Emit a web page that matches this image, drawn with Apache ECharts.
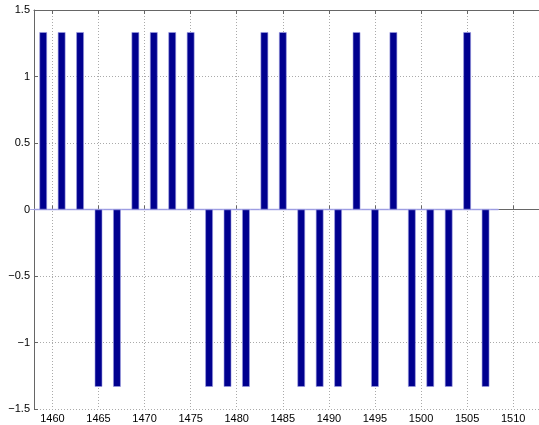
<!DOCTYPE html>
<html>
<head>
<meta charset="utf-8">
<script src="https://cdn.jsdelivr.net/npm/echarts@6/dist/echarts.min.js"></script>
<style>
  html, body { margin: 0; padding: 0; background: #fff; }
  #chart { width: 539px; height: 425px; }
</style>
</head>
<body>
<div id="chart"></div>
<script>
// Positions along the x axis (one bar per integer step)
const positions = [
  1458, 1459, 1460, 1461, 1462, 1463, 1464, 1465, 1466, 1467,
  1468, 1469, 1470, 1471, 1472, 1473, 1474, 1475, 1476, 1477,
  1478, 1479, 1480, 1481, 1482, 1483, 1484, 1485, 1486, 1487,
  1488, 1489, 1490, 1491, 1492, 1493, 1494, 1495, 1496, 1497,
  1498, 1499, 1500, 1501, 1502, 1503, 1504, 1505, 1506, 1507, 1508
];
const A = 1.3333;
// Bar heights: zero on even steps, ±A on odd steps
const values = [
  0,  A, 0,  A, 0,  A, 0, -A, 0, -A,
  0,  A, 0,  A, 0,  A, 0,  A, 0, -A,
  0, -A, 0, -A, 0,  A, 0,  A, 0, -A,
  0, -A, 0, -A, 0,  A, 0, -A, 0,  A,
  0, -A, 0, -A, 0, -A, 0,  A, 0, -A, 0
];
const xTicks = [1460, 1465, 1470, 1475, 1480, 1485, 1490, 1495, 1500, 1505, 1510];

const chart = echarts.init(document.getElementById('chart'));
const font = { fontFamily: 'Liberation Sans', fontSize: 11, color: '#000' };
const gridLine = { show: true, lineStyle: { color: '#aaa', type: [1, 2], width: 1 } };
const axisLine = { show: true, lineStyle: { color: '#666', width: 1 } };

chart.setOption({
  animation: false,
  grid: { left: 34, right: 0, top: 10, bottom: 16 },
  xAxis: [{
    type: 'value',
    min: 1458, max: 1512.8,
    interval: 5,
    axisLine: axisLine,
    axisTick: { show: true, inside: true, length: 4, lineStyle: { color: '#666' },
      customValues: xTicks },
    axisLabel: Object.assign({}, font, { margin: 4, customValues: xTicks,
      formatter: v => String(v) }),
    splitLine: gridLine
  }, {
    type: 'value',
    position: 'top',
    min: 1458, max: 1512.8,
    axisLine: axisLine,
    axisTick: { show: true, inside: true, length: 4, lineStyle: { color: '#666' },
      customValues: xTicks },
    axisLabel: { show: false },
    splitLine: { show: false }
  }],
  yAxis: {
    type: 'value',
    min: -1.5, max: 1.5,
    interval: 0.5,
    axisLine: axisLine,
    axisTick: { show: true, inside: true, length: 4, lineStyle: { color: '#666' } },
    axisLabel: Object.assign({}, font, { margin: 4,
      formatter: v => (v < 0 ? '\u2212' + String(-v) : String(v)) }),
    splitLine: gridLine
  },
  series: [{
    type: 'bar',
    data: positions.map((p, i) => [p, values[i]]),
    barWidth: 7.6,
    itemStyle: { color: '#00008f', borderColor: '#9a9ae0', borderWidth: 0.6 },
    emphasis: { disabled: true },
    z: 3
  }, {
    // thin baseline along zero, spanning the bar run
    type: 'line',
    data: [[1458, 0], [1508.4, 0]],
    symbol: 'none',
    lineStyle: { color: '#a8a8e6', width: 1.5 },
    z: 2,
    silent: true
  }]
});
</script>
</body>
</html>
